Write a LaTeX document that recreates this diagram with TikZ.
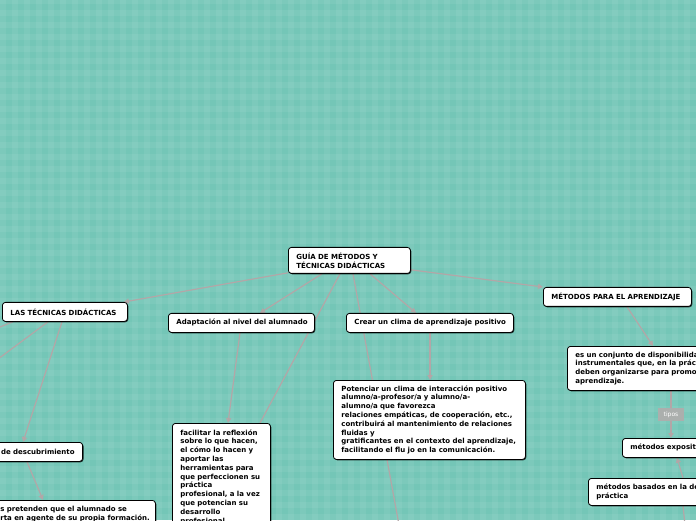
\documentclass[tikz,border=0pt]{standalone}
\usepackage{fontspec}
\setmainfont{DejaVu Sans}
\usetikzlibrary{arrows.meta,shadows}
\definecolor{bgteal}{HTML}{74C6B7}
\definecolor{connc}{HTML}{B3A6A7}
\definecolor{tipgray}{HTML}{ABAFAD}
\pgfdeclarelayer{back}
\pgfdeclarelayer{edges}
\pgfsetlayers{back,edges,main}
\newcommand\lne[1]{\mbox{#1}}
\tikzset{
  box/.style={draw=black, line width=0.8pt, fill=white, rounded corners=3pt,
    font=\fontsize{7}{8.8}\selectfont\bfseries, inner xsep=8pt, inner ysep=4pt,
    align=left, anchor=north west,
    drop shadow={shadow xshift=0.9pt, shadow yshift=-0.9pt, opacity=0.75, fill=black}},
  conn/.style={draw=connc, line width=1.2pt},
  arr/.style={conn, -{Triangle[length=5pt,width=5pt]}},
  tiplabel/.style={fill=tipgray, text=white, font=\fontsize{6}{7}\selectfont,
    minimum width=26pt, minimum height=13pt, inner sep=0pt}
}
\begin{document}
\begin{tikzpicture}[x=1pt,y=1pt]
\useasboundingbox (0,0) rectangle (696,520);
\begin{pgfonlayer}{back}
  \fill[bgteal] (0,0) rectangle (696,520);
  \foreach \i in {0,12,...,696} \fill[white,opacity=0.06] (\i,0) rectangle ++(6,520);
  \foreach \j in {0,12,...,520} \fill[white,opacity=0.06] (0,\j) rectangle ++(696,6);
\end{pgfonlayer}

% nodes
\node[box, text width=106pt, minimum height=26pt, font=\fontsize{7}{9}\selectfont\bfseries] (central) at (288,273)
  {\lne{GUÍA DE MÉTODOS Y}\\\lne{TÉCNICAS DIDÁCTICAS}};
\node[box, text width=109pt, minimum height=19pt] (tecnicas) at (2,218) {\lne{LAS TÉCNICAS DIDÁCTICAS}};
\node[box, text width=130pt, minimum height=19pt] (adapt) at (168,207) {\lne{Adaptación al nivel del alumnado}};
\node[box, text width=151pt, minimum height=19pt] (crear) at (346,207) {\lne{Crear un clima de aprendizaje positivo}};
\node[box, text width=132pt, minimum height=19pt] (metodos) at (543,233) {\lne{MÉTODOS PARA EL APRENDIZAJE}};
\node[box, text width=176pt, minimum height=79pt] (potenciar) at (333,140)
  {\lne{Potenciar un clima de interacción positivo}\\
   \lne{alumno/a-profesor/a y alumno/a-}\\
   \lne{alumno/a que favorezca}\\
   \lne{relaciones empáticas, de cooperación, etc.,}\\
   \lne{contribuirá al mantenimiento de relaciones}\\
   \lne{fluidas y}\\
   \lne{gratificantes en el contexto del aprendizaje,}\\
   \lne{facilitando el flu jo en la comunicación.}};
\node[box, text width=82pt, inner ysep=6pt] (facilitar) at (172,97)
  {\lne{facilitar la reflexión}\\
   \lne{sobre lo que hacen,}\\
   \lne{el cómo lo hacen y}\\
   \lne{aportar las}\\
   \lne{herramientas para}\\
   \lne{que perfeccionen su}\\
   \lne{práctica}\\
   \lne{profesional, a la vez}\\
   \lne{que potencian su}\\
   \lne{desarrollo}\\
   \lne{profesional.}\\ \lne{}};
\node[box, anchor=north east, text width=100pt, align=right, minimum height=19pt] (descub) at (83,78)
  {\lne{s de descubrimiento}};
\node[box, text width=147pt, minimum height=30pt, inner ysep=6pt] (pretenden) at (-8,20)
  {\lne{s pretenden que el alumnado se}\\
   \lne{rta en agente de su propia formación.}\\ \lne{}};
\node[box, text width=200pt, minimum height=44pt] (esun) at (567,174)
  {\lne{es un conjunto de disponibilidades}\\
   \lne{instrumentales que, en la práctica}\\
   \lne{deben organizarse para promover}\\
   \lne{aprendizaje.}};
\node[box, text width=150pt, minimum height=19pt] (exposit) at (622,82) {\lne{métodos expositivos}};
\node[box, text width=200pt, minimum height=27pt, font=\fontsize{7}{9}\selectfont\bfseries] (basados) at (588,42)
  {\lne{métodos basados en la demostración}\\\lne{práctica}};

\coordinate (offb) at (399,-5);
\coordinate (offl1) at (-20,185);
\coordinate (offl2) at (-10,155);
\coordinate (offr) at (685,-5);

% connectors
\begin{pgfonlayer}{edges}
  \draw[arr] ([yshift=1pt]central.south west) -- ([xshift=-4pt]tecnicas.north east);
  \draw[arr] ([xshift=34pt]central.south west) -- ([xshift=92pt]adapt.north west);
  \draw[conn] ([xshift=52pt]central.south west) -- ([xshift=88pt]facilitar.north west);
  \draw[conn] ([xshift=65pt]central.south west) -- (offb);
  \draw[arr] ([xshift=82pt]central.south west) -- ([xshift=70pt]crear.north west);
  \draw[arr] ([yshift=4pt]central.south east) -- (metodos.north west);
  \draw[conn] ([xshift=11pt]tecnicas.south west) -- (offl1);
  \draw[conn] ([xshift=46pt]tecnicas.south west) -- (offl2);
  \draw[arr] ([xshift=60pt]tecnicas.south west) -- ([xshift=-60pt]descub.north east);
  \draw[arr] ([xshift=-56pt]descub.south east) -- ([xshift=51pt]pretenden.north west);
  \draw[arr] ([xshift=72pt]adapt.south west) -- ([xshift=56pt]facilitar.north west);
  \draw[arr] ([xshift=84pt]crear.south west) -- ([xshift=97pt]potenciar.north west);
  \draw[arr] ([xshift=84pt]metodos.south west) -- ([xshift=86pt]esun.north west);
  \draw[arr] ([xshift=104pt]esun.south west) -- node[tiplabel] (tipos) {tipos} ([xshift=49pt]exposit.north west);
  \draw[arr] ([xshift=95pt]basados.north west) -- ([xshift=55pt]exposit.south west);
  \draw[conn] ([xshift=95pt]basados.south west) -- (offr);
\end{pgfonlayer}
\end{tikzpicture}
\end{document}
